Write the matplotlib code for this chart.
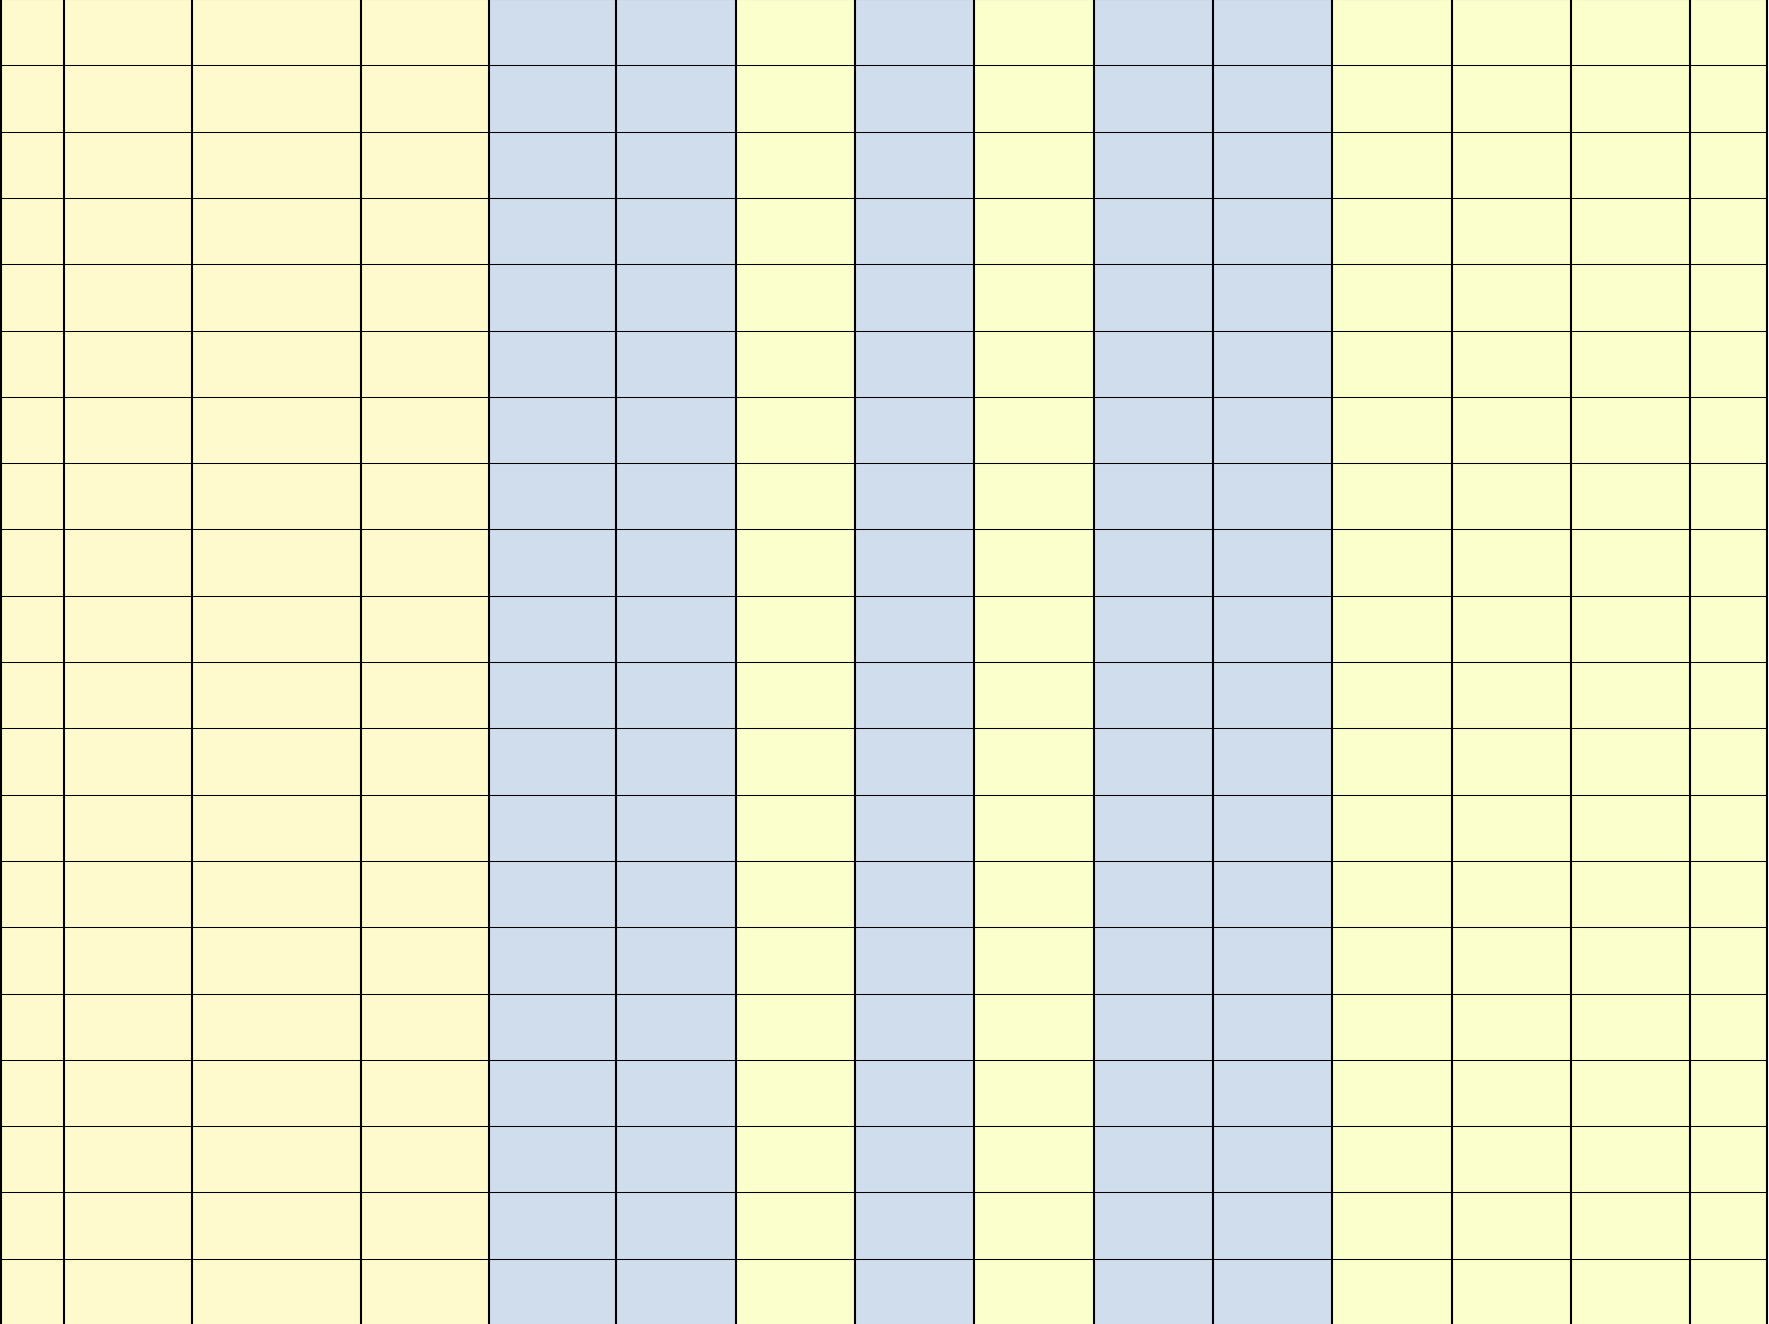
import numpy as np
import matplotlib.pyplot as plt
from matplotlib.colors import ListedColormap

# Grid contents: colour group of each column, number of rows
col_groups = [0, 0, 0, 0, 1, 1, 2, 1, 2, 1, 1, 2, 2, 2, 2]
n_rows = 20

# Fill colours for the groups (yellow, blue, yellow-green)
group_colors = ['#FFFACD', '#D0DDED', '#FAFFCC']

# Column widths in pixels (layout only)
col_widths = [63, 128, 169, 128, 127, 120, 119, 119, 119.5, 119.5, 119, 120, 119, 119, 77]
row_height = 66.3

x_edges = 1.3 + np.concatenate([[0], np.cumsum(col_widths)])
y_edges = -1 + row_height * np.arange(n_rows + 1)

cells = np.tile(col_groups, (n_rows, 1))

fig = plt.figure(figsize=(17.69, 13.24), dpi=100)
ax = fig.add_axes([0, 0, 1, 1])

ax.pcolormesh(x_edges, y_edges, cells, cmap=ListedColormap(group_colors),
              vmin=-0.5, vmax=2.5, shading='flat', antialiased=False)

# Grid lines: vertical ones are a bit heavier than horizontal ones
ax.hlines(y_edges, x_edges[0], x_edges[-1], color='black', lw=0.75)
ax.vlines(x_edges, y_edges[0], y_edges[-1], color='black', lw=1.5)

ax.set_xlim(0, 1769)
ax.set_ylim(1324, 0)
ax.axis('off')

fig.savefig('out.png', dpi=100)
